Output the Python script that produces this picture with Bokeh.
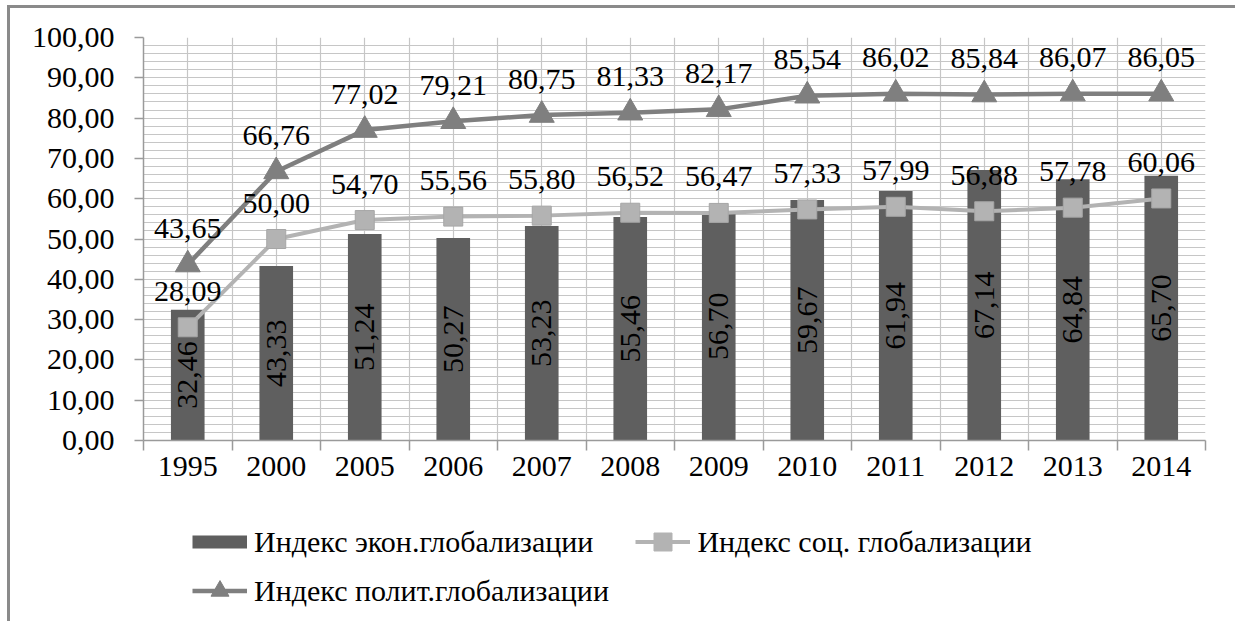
import math
from bokeh.plotting import figure
from bokeh.layouts import column
from bokeh.models import (ColumnDataSource, FixedTicker, Legend, LegendItem)
from bokeh.core.properties import value
from bokeh.embed import file_html
from bokeh.resources import INLINE

years = ["1995", "2000", "2005", "2006", "2007", "2008", "2009", "2010", "2011", "2012", "2013", "2014"]
econ = [32.46, 43.33, 51.24, 50.27, 53.23, 55.46, 56.70, 59.67, 61.94, 67.14, 64.84, 65.70]
soc = [28.09, 50.00, 54.70, 55.56, 55.80, 56.52, 56.47, 57.33, 57.99, 56.88, 57.78, 60.06]
polit = [43.65, 66.76, 77.02, 79.21, 80.75, 81.33, 82.17, 85.54, 86.02, 85.84, 86.07, 86.05]
y_ticks = [0, 10, 20, 30, 40, 50, 60, 70, 80, 90, 100]
y_tick_labels = ["0,00", "10,00", "20,00", "30,00", "40,00", "50,00", "60,00", "70,00", "80,00", "90,00", "100,00"]
series_names = ["Индекс экон.глобализации", "Индекс соц. глобализации", "Индекс полит.глобализации"]

def fmt(v):
    return f"{v:.2f}".replace(".", ",")

xs = list(range(1, len(years) + 1))
src = ColumnDataSource(dict(
    x=xs, econ=econ, soc=soc, polit=polit,
    econ_half=[v / 2 for v in econ],
    econ_lbl=[fmt(v) for v in econ],
    soc_lbl=[fmt(v) for v in soc],
    polit_lbl=[fmt(v) for v in polit],
))

FONT = "'Liberation Serif', 'Times New Roman', 'DejaVu Serif', serif"
FS = "30px"
BAR_C = "#5f5f5f"
SOC_C = "#b3b3b3"
POL_C = "#7f7f7f"

p = figure(width=1225, height=492, output_backend="svg", toolbar_location=None,
           x_range=(0.5, len(years) + 0.5), y_range=(0, 100),
           min_border_left=133, min_border_right=30, min_border_top=29, min_border_bottom=60)
p.outline_line_color = None
p.background_fill_color = "white"

# axes
p.xaxis.ticker = FixedTicker(ticks=xs, minor_ticks=[i + 0.5 for i in range(0, len(years) + 1)])
p.xaxis.major_label_overrides = {i: y for i, y in zip(xs, years)}
p.yaxis.ticker = FixedTicker(ticks=y_ticks, minor_ticks=list(range(0, 101, 2)))
p.yaxis.major_label_overrides = {t: l for t, l in zip(y_ticks, y_tick_labels)}
for ax in (p.xaxis, p.yaxis):
    ax.axis_line_color = "#9a9a9a"
    ax.axis_line_width = 1.5
    ax.major_label_text_font = FONT
    ax.major_label_text_font_size = FS
    ax.major_label_text_color = "black"
p.xaxis.major_tick_out = 0
p.xaxis.major_tick_in = 0
p.xaxis.minor_tick_out = 10
p.xaxis.minor_tick_in = 0
p.xaxis.minor_tick_line_color = "#9a9a9a"
p.xaxis.minor_tick_line_width = 1.5
p.xaxis.major_label_standoff = 6
p.yaxis.major_tick_out = 9
p.yaxis.major_tick_in = 0
p.yaxis.major_tick_line_color = "#9a9a9a"
p.yaxis.major_tick_line_width = 1.5
p.yaxis.minor_tick_out = 0
p.yaxis.minor_tick_in = 0
p.yaxis.major_label_standoff = 20

for g in (p.xgrid, p.ygrid):
    g.grid_line_color = "#c6c6c6"
    g.grid_line_width = 1.2
    g.minor_grid_line_color = "#c6c6c6"
    g.minor_grid_line_width = 1.2

# glyphs
p.vbar(x="x", top="econ", width=0.38, bottom=0, source=src, fill_color=BAR_C, line_color=None)
p.line("x", "soc", source=src, line_color=SOC_C, line_width=4)
p.scatter("x", "soc", source=src, marker="square", size=19,
          fill_color=SOC_C, line_color="#a6a6a6", line_width=1)
p.line("x", "polit", source=src, line_color=POL_C, line_width=4.5)
p.scatter("x", "polit", source=src, marker="triangle", size=25,
          fill_color=POL_C, line_color=POL_C)

p.text("x", "econ_half", text="econ_lbl", source=src, angle=math.pi / 2,
       text_font=value(FONT), text_font_size=FS, text_align="center",
       text_baseline="middle", text_color="black")
p.text("x", "soc", text="soc_lbl", source=src, y_offset=-36,
       text_font=value(FONT), text_font_size=FS, text_align="center",
       text_baseline="middle", text_color="black")
p.text("x", "polit", text="polit_lbl", source=src, y_offset=-36,
       text_font=value(FONT), text_font_size=FS, text_align="center",
       text_baseline="middle", text_color="black")

# legend area (separate figure below the chart, holding legend-only glyphs)
lf = figure(width=1225, height=121, output_backend="svg", toolbar_location=None,
            x_range=(0, 1), y_range=(0, 1), min_border=0)
lf.axis.visible = False
lf.grid.visible = False
lf.outline_line_color = None
off = dict(x=[-5], y=[-5])
sw_bar = lf.line(x=off["x"], y=off["y"], line_color=BAR_C, line_width=13, line_cap="butt")
sw_soc_l = lf.line(x=off["x"], y=off["y"], line_color=SOC_C, line_width=4)
sw_soc_m = lf.scatter(x=off["x"], y=off["y"], marker="square", fill_color=SOC_C, line_color=SOC_C)
sw_pol_l = lf.line(x=off["x"], y=off["y"], line_color=POL_C, line_width=4.5)
sw_pol_m = lf.scatter(x=off["x"], y=off["y"], marker="triangle", fill_color=POL_C, line_color=POL_C)

def style_legend(lg):
    lg.label_text_font = FONT
    lg.label_text_font_size = FS
    lg.label_text_color = "black"
    lg.border_line_color = None
    lg.background_fill_alpha = 0
    lg.glyph_width = 55
    lg.glyph_height = 45
    lg.label_height = 45
    lg.label_standoff = 7
    lg.padding = 0
    lg.margin = 0

leg1 = Legend(items=[LegendItem(label=series_names[0], renderers=[sw_bar]),
                     LegendItem(label=series_names[1], renderers=[sw_soc_l, sw_soc_m])],
              orientation="horizontal", location=(49, 57))
style_legend(leg1)
leg1.spacing = 42
leg2 = Legend(items=[LegendItem(label=series_names[2], renderers=[sw_pol_l, sw_pol_m])],
              orientation="horizontal", location=(49, 8))
style_legend(leg2)
lf.add_layout(leg1, "center")
lf.add_layout(leg2, "center")

layout = column(p, lf, spacing=0,
                styles={"border-top": "3px solid #8a8a8a", "border-left": "3px solid #8a8a8a",
                        "margin-left": "7px", "margin-top": "5px"})

open("out.html", "w").write(file_html(layout, INLINE))
